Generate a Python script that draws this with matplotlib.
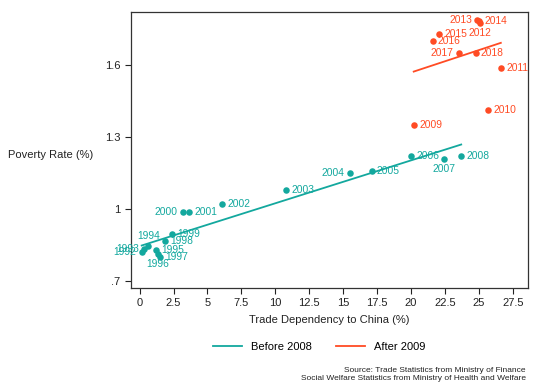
import matplotlib
matplotlib.use("Agg")
import matplotlib.pyplot as plt
import numpy as np

plt.rcParams['font.family'] = ['Liberation Sans', 'DejaVu Sans']

# before 2008
years_a = [1992, 1993, 1994, 1995, 1996, 1997, 1998, 1999, 2000, 2001,
           2002, 2003, 2004, 2005, 2006, 2007, 2008]
trade_a = [0.15, 0.34, 0.63, 1.2, 1.35, 1.5, 1.86, 2.36, 3.19, 3.63,
           6.07, 10.8, 15.5, 17.1, 20.0, 22.4, 23.7]
pov_a = [0.82, 0.836, 0.847, 0.83, 0.813, 0.80, 0.868, 0.895, 0.987, 0.987,
         1.02, 1.08, 1.15, 1.16, 1.22, 1.21, 1.22]

# after 2009
years_b = [2009, 2010, 2011, 2012, 2013, 2014, 2015, 2016, 2017, 2018]
trade_b = [20.2, 25.67, 26.62, 25.1, 24.88, 25.0, 22.06, 21.6, 23.53, 24.76]
pov_b = [1.351, 1.413, 1.59, 1.777, 1.789, 1.783, 1.73, 1.701, 1.65, 1.65]

# label placement (clock position as in stata)
pos_a = {1992: 9, 1993: 9, 1994: 12, 1996: 6, 2000: 9, 2004: 9, 2007: 6}
pos_b = {2012: 6, 2013: 9, 2017: 9}

teal = '#13a89e'
red = '#ff4b24'

fig = plt.figure(figsize=(5.41, 3.91), dpi=100)
ax = fig.add_axes([0.2421, 0.2634, 0.7333, 0.7066])


def label_points(years, xs, ys, pos, color):
    off = {3: ((3.8, 0), 'left', 'center'),
           9: ((-3.8, 0), 'right', 'center'),
           12: ((0, 3.5), 'center', 'bottom'),
           6: ((0, -3.5), 'center', 'top')}
    for yr, x, y in zip(years, xs, ys):
        (dx, dy), ha, va = off[pos.get(yr, 3)]
        ax.annotate(str(yr), (x, y), xytext=(dx, dy), textcoords='offset points',
                    ha=ha, va=va, color=color, fontsize=7.4)


for xs, ys, yrs, pos, c, lab in [(trade_a, pov_a, years_a, pos_a, teal, 'Before 2008'),
                                 (trade_b, pov_b, years_b, pos_b, red, 'After 2009')]:
    xs = np.array(xs)
    ys = np.array(ys)
    ax.scatter(xs, ys, s=22, color=c, zorder=3, linewidths=0)
    b, a = np.polyfit(xs, ys, 1)
    xx = np.array([xs.min(), xs.max()])
    ax.plot(xx, a + b * xx, color=c, lw=1.3, label=lab)
    label_points(yrs, xs, ys, pos, c)

ax.set_xlim(-0.64, 28.6)
ax.set_ylim(0.672, 1.823)
ax.set_xticks(np.arange(0, 27.6, 2.5))
ax.set_xticklabels(['0', '2.5', '5', '7.5', '10', '12.5', '15', '17.5',
                    '20', '22.5', '25', '27.5'])
ax.set_yticks([0.7, 1.0, 1.3, 1.6])
ax.set_yticklabels(['.7', '1', '1.3', '1.6'])
ax.tick_params(direction='out', length=4, width=0.8, labelsize=8, colors='#222222')
for s in ax.spines.values():
    s.set_color('#333333')
    s.set_linewidth(0.9)

ax.set_xlabel('Trade Dependency to China (%)', fontsize=8, color='#222222', labelpad=5)
fig.text(8 / 541, 1 - 155 / 391, 'Poverty Rate (%)', fontsize=8, color='#222222',
         ha='left', va='center')

fig.legend(loc='center', bbox_to_anchor=(0.59, 1 - 347 / 391), ncol=2, frameon=False,
           fontsize=8, handlelength=2.6, columnspacing=2.2)

fig.text(526 / 541, 1 - 370 / 391, 'Source: Trade Statistics from Ministry of Finance',
         fontsize=6, ha='right', va='center', color='#222222')
fig.text(526 / 541, 1 - 379 / 391,
         'Social Welfare Statistics from Ministry of Health and Welfare',
         fontsize=6, ha='right', va='center', color='#222222')

fig.savefig('out.png', dpi=100)
